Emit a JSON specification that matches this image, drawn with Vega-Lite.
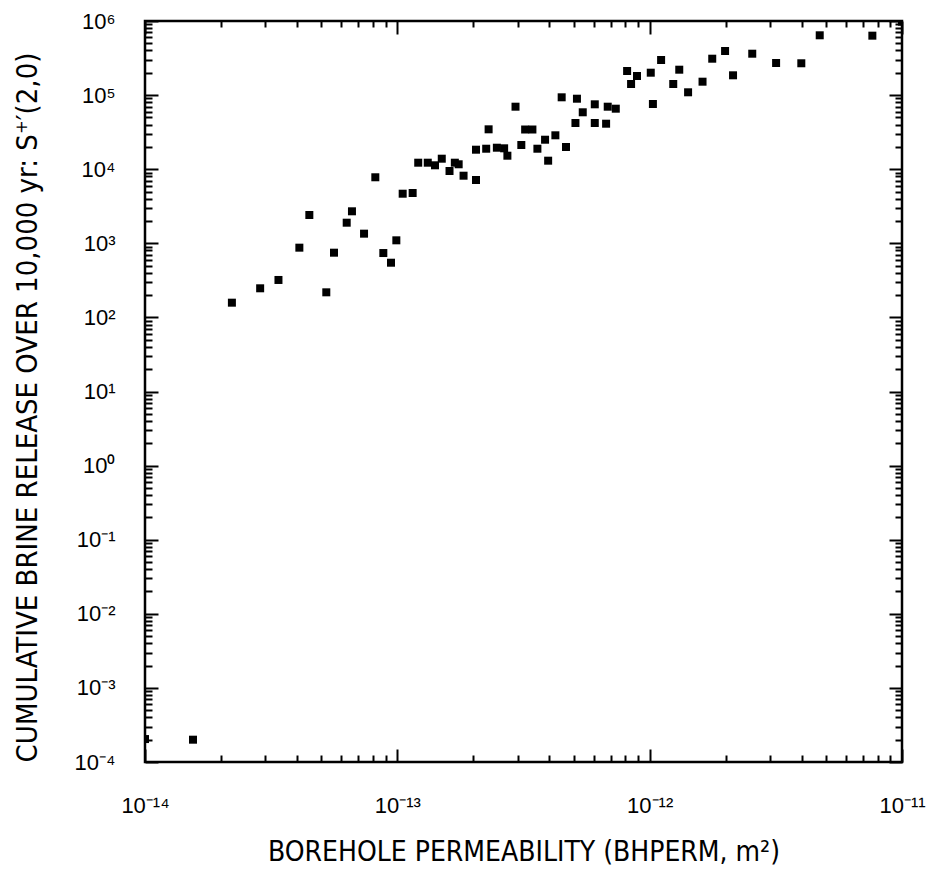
{
  "$schema": "https://vega.github.io/schema/vega-lite/v6.json",
  "width": 757,
  "height": 741,
  "autosize": "none",
  "padding": {"left": 145, "top": 21, "right": 44, "bottom": 131},
  "background": "white",
  "config": {
    "view": {"stroke": "black", "strokeWidth": 2.5, "fill": null},
    "axis": {
      "domain": false,
      "grid": false,
      "ticks": true,
      "tickColor": "black",
      "tickWidth": 2,
      "labelColor": "black",
      "labelFont": "Arial, Helvetica, 'Liberation Sans', sans-serif",
      "labelFontSize": 22,
      "titleColor": "black",
      "titleFont": "'Liberation Sans Narrow', 'Arial Narrow', 'DejaVu Sans Condensed', 'Liberation Sans', sans-serif",
      "titleFontWeight": "normal",
      "titleFontSize": 28
    }
  },
  "datasets": {
    "pts": [
      {"perm": 1.0e-14, "release": 2.04e-4},
      {"perm": 1.55e-14, "release": 2.0e-4},
      {"perm": 2.21e-14, "release": 158},
      {"perm": 2.86e-14, "release": 247},
      {"perm": 3.38e-14, "release": 320},
      {"perm": 4.09e-14, "release": 873},
      {"perm": 4.48e-14, "release": 2410},
      {"perm": 5.23e-14, "release": 218},
      {"perm": 5.61e-14, "release": 747},
      {"perm": 6.30e-14, "release": 1897},
      {"perm": 6.61e-14, "release": 2703},
      {"perm": 7.38e-14, "release": 1349},
      {"perm": 8.18e-14, "release": 7780},
      {"perm": 8.80e-14, "release": 739},
      {"perm": 9.44e-14, "release": 547},
      {"perm": 9.91e-14, "release": 1097},
      {"perm": 1.05e-13, "release": 4670},
      {"perm": 1.15e-13, "release": 4770},
      {"perm": 1.21e-13, "release": 12240},
      {"perm": 1.32e-13, "release": 12240},
      {"perm": 1.41e-13, "release": 11290},
      {"perm": 1.50e-13, "release": 13860},
      {"perm": 1.61e-13, "release": 9460},
      {"perm": 1.69e-13, "release": 12240},
      {"perm": 1.75e-13, "release": 11650},
      {"perm": 1.83e-13, "release": 8170},
      {"perm": 2.05e-13, "release": 7150},
      {"perm": 2.05e-13, "release": 18330},
      {"perm": 2.25e-13, "release": 18900},
      {"perm": 2.30e-13, "release": 34530},
      {"perm": 2.48e-13, "release": 19500},
      {"perm": 2.65e-13, "release": 19140},
      {"perm": 2.73e-13, "release": 15210},
      {"perm": 2.94e-13, "release": 69740},
      {"perm": 3.10e-13, "release": 21210},
      {"perm": 3.21e-13, "release": 34330},
      {"perm": 3.43e-13, "release": 34330},
      {"perm": 3.59e-13, "release": 18900},
      {"perm": 3.85e-13, "release": 25000},
      {"perm": 3.96e-13, "release": 13030},
      {"perm": 4.23e-13, "release": 28670},
      {"perm": 4.48e-13, "release": 93370},
      {"perm": 4.66e-13, "release": 19950},
      {"perm": 5.08e-13, "release": 42030},
      {"perm": 5.15e-13, "release": 89390},
      {"perm": 5.43e-13, "release": 58610},
      {"perm": 6.06e-13, "release": 75100},
      {"perm": 6.06e-13, "release": 42030},
      {"perm": 6.72e-13, "release": 41120},
      {"perm": 6.82e-13, "release": 69740},
      {"perm": 7.34e-13, "release": 65550},
      {"perm": 8.14e-13, "release": 211500},
      {"perm": 8.44e-13, "release": 141200},
      {"perm": 8.91e-13, "release": 181000},
      {"perm": 1.01e-12, "release": 200600},
      {"perm": 1.03e-12, "release": 75850},
      {"perm": 1.11e-12, "release": 297700},
      {"perm": 1.24e-12, "release": 141200},
      {"perm": 1.31e-12, "release": 220200},
      {"perm": 1.42e-12, "release": 109100},
      {"perm": 1.62e-12, "release": 151700},
      {"perm": 1.77e-12, "release": 309900},
      {"perm": 1.99e-12, "release": 393800},
      {"perm": 2.14e-12, "release": 185000},
      {"perm": 2.55e-12, "release": 362000},
      {"perm": 3.17e-12, "release": 271200},
      {"perm": 3.99e-12, "release": 268900},
      {"perm": 4.72e-12, "release": 641300},
      {"perm": 7.63e-12, "release": 633900},
      {"perm": 1.0e-11, "release": 980000}
    ]
  },
  "data": {"name": "pts"},
  "layer": [
    {
      "mark": {"type": "square", "size": 64, "color": "black", "opacity": 1, "clip": true},
      "encoding": {
        "x": {
          "field": "perm",
          "type": "quantitative",
          "scale": {"type": "log", "domain": [1e-14, 1e-11], "nice": false},
          "axis": {
            "orient": "bottom",
            "zindex": 2,
            "offset": -13,
            "tickSize": 13,
            "values": [1e-14, 1e-13, 1e-12, 1e-11],
            "labelPadding": 33,
            "labelFlush": false,
            "labelOverlap": false,
            "labelExpr": "'10⁻¹' + substring('⁰¹²³⁴⁵⁶⁷⁸⁹', abs(round(log(datum.value)/LN10)) - 10, abs(round(log(datum.value)/LN10)) - 9)",
            "title": "BOREHOLE PERMEABILITY (BHPERM, m²)",
            "titleBaseline": "alphabetic",
            "titleY": 111
          }
        },
        "y": {
          "field": "release",
          "type": "quantitative",
          "scale": {"type": "log", "domain": [1e-4, 1e6], "nice": false},
          "axis": {
            "orient": "left",
            "zindex": 2,
            "offset": -13,
            "tickSize": 13,
            "values": [1e-4, 1e-3, 1e-2, 0.1, 1, 10, 100, 1000, 10000, 100000, 1000000],
            "labelPadding": 30,
            "labelFlush": false,
            "labelOverlap": false,
            "labelBaseline": "middle",
            "labelExpr": "'10' + (round(log(datum.value)/LN10) < 0 ? '⁻' : '') + substring('⁰¹²³⁴⁵⁶⁷⁸⁹', abs(round(log(datum.value)/LN10)), abs(round(log(datum.value)/LN10)) + 1)",
            "title": "CUMULATIVE BRINE RELEASE OVER 10,000 yr:  S⁺′(2,0)",
            "titleFontSize": 29,
            "titleAngle": -90,
            "titleBaseline": "alphabetic",
            "titleAlign": "center",
            "titleX": -122,
            "titleY": 386
          }
        }
      }
    },
    {
      "mark": {"type": "square", "size": 64, "opacity": 0},
      "encoding": {
        "x": {
          "field": "perm",
          "type": "quantitative",
          "scale": {"type": "log", "domain": [1e-14, 1e-11], "nice": false},
          "axis": {
            "orient": "bottom",
            "zindex": 2,
            "offset": -7,
            "tickSize": 7,
            "values": [2e-14, 3e-14, 4e-14, 5e-14, 6e-14, 7e-14, 8e-14, 9e-14, 2e-13, 3e-13, 4e-13, 5e-13, 6e-13, 7e-13, 8e-13, 9e-13, 2e-12, 3e-12, 4e-12, 5e-12, 6e-12, 7e-12, 8e-12, 9e-12],
            "labels": false,
            "title": null
          }
        },
        "y": {
          "field": "release",
          "type": "quantitative",
          "scale": {"type": "log", "domain": [1e-4, 1e6], "nice": false},
          "axis": {
            "orient": "left",
            "zindex": 2,
            "offset": -7,
            "tickSize": 7,
            "values": [2e-4, 3e-4, 4e-4, 5e-4, 6e-4, 7e-4, 8e-4, 9e-4, 2e-3, 3e-3, 4e-3, 5e-3, 6e-3, 7e-3, 8e-3, 9e-3, 2e-2, 3e-2, 4e-2, 5e-2, 6e-2, 7e-2, 8e-2, 9e-2, 0.2, 0.3, 0.4, 0.5, 0.6, 0.7, 0.8, 0.9, 2, 3, 4, 5, 6, 7, 8, 9, 20, 30, 40, 50, 60, 70, 80, 90, 200, 300, 400, 500, 600, 700, 800, 900, 2000, 3000, 4000, 5000, 6000, 7000, 8000, 9000, 20000, 30000, 40000, 50000, 60000, 70000, 80000, 90000, 200000, 300000, 400000, 500000, 600000, 700000, 800000, 900000],
            "labels": false,
            "title": null
          }
        }
      }
    },
    {
      "mark": {"type": "square", "size": 64, "opacity": 0},
      "encoding": {
        "x": {
          "field": "perm",
          "type": "quantitative",
          "scale": {"type": "log", "domain": [1e-14, 1e-11], "nice": false},
          "axis": {
            "orient": "top",
            "zindex": 2,
            "offset": -13,
            "tickSize": 13,
            "values": [1e-14, 1e-13, 1e-12, 1e-11],
            "labels": false,
            "title": null
          }
        },
        "y": {
          "field": "release",
          "type": "quantitative",
          "scale": {"type": "log", "domain": [1e-4, 1e6], "nice": false},
          "axis": {
            "orient": "right",
            "zindex": 2,
            "offset": -13,
            "tickSize": 13,
            "values": [1e-4, 1e-3, 1e-2, 0.1, 1, 10, 100, 1000, 10000, 100000, 1000000],
            "labels": false,
            "title": null
          }
        }
      }
    },
    {
      "mark": {"type": "square", "size": 64, "opacity": 0},
      "encoding": {
        "x": {
          "field": "perm",
          "type": "quantitative",
          "scale": {"type": "log", "domain": [1e-14, 1e-11], "nice": false},
          "axis": {
            "orient": "top",
            "zindex": 2,
            "offset": -6,
            "tickSize": 6,
            "values": [2e-14, 3e-14, 4e-14, 5e-14, 6e-14, 7e-14, 8e-14, 9e-14, 2e-13, 3e-13, 4e-13, 5e-13, 6e-13, 7e-13, 8e-13, 9e-13, 2e-12, 3e-12, 4e-12, 5e-12, 6e-12, 7e-12, 8e-12, 9e-12],
            "labels": false,
            "title": null
          }
        },
        "y": {
          "field": "release",
          "type": "quantitative",
          "scale": {"type": "log", "domain": [1e-4, 1e6], "nice": false},
          "axis": {
            "orient": "right",
            "zindex": 2,
            "offset": -7,
            "tickSize": 7,
            "values": [2e-4, 3e-4, 4e-4, 5e-4, 6e-4, 7e-4, 8e-4, 9e-4, 2e-3, 3e-3, 4e-3, 5e-3, 6e-3, 7e-3, 8e-3, 9e-3, 2e-2, 3e-2, 4e-2, 5e-2, 6e-2, 7e-2, 8e-2, 9e-2, 0.2, 0.3, 0.4, 0.5, 0.6, 0.7, 0.8, 0.9, 2, 3, 4, 5, 6, 7, 8, 9, 20, 30, 40, 50, 60, 70, 80, 90, 200, 300, 400, 500, 600, 700, 800, 900, 2000, 3000, 4000, 5000, 6000, 7000, 8000, 9000, 20000, 30000, 40000, 50000, 60000, 70000, 80000, 90000, 200000, 300000, 400000, 500000, 600000, 700000, 800000, 900000],
            "labels": false,
            "title": null
          }
        }
      }
    }
  ],
  "resolve": {"axis": {"x": "independent", "y": "independent"}}
}
